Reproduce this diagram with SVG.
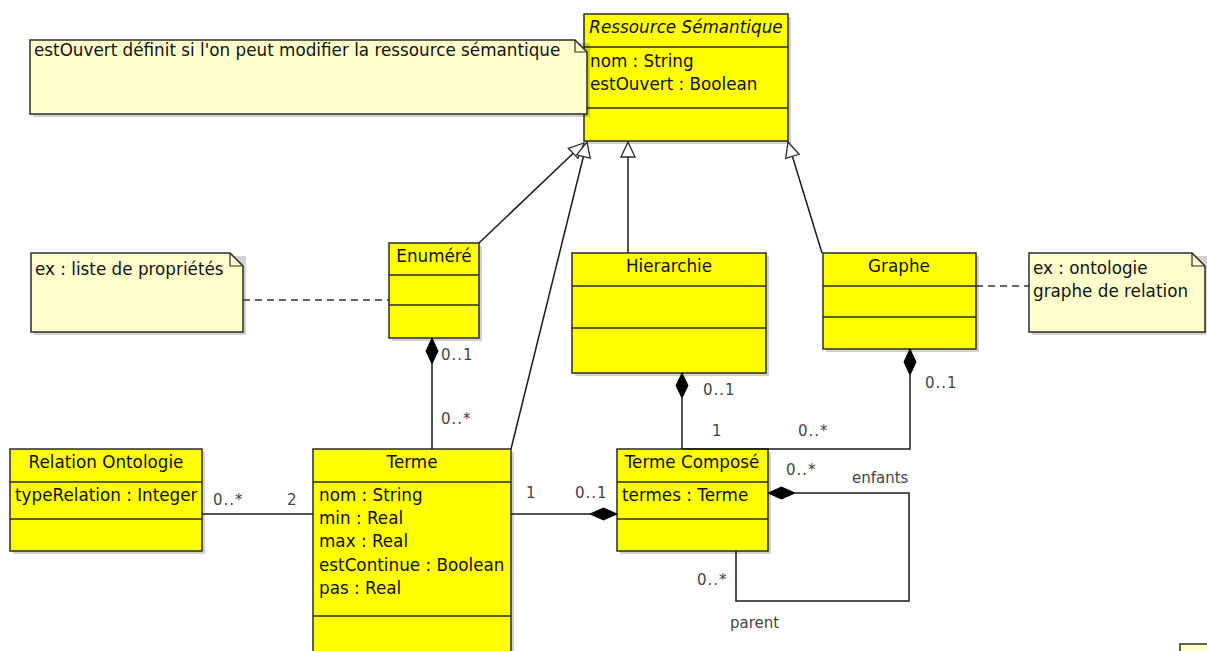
<svg xmlns="http://www.w3.org/2000/svg" width="1207" height="651" viewBox="0 0 1207 651">
<style>
  .box{fill:#ffff00;stroke:#2b2b2b;stroke-width:1.5}
  .sep{stroke:#2b2b2b;stroke-width:1.5}
  .shadow{fill:#000;opacity:0.18}
  .note{fill:#ffffcc;stroke:#2b2b2b;stroke-width:1.5}
  .fold{fill:none;stroke:#2b2b2b;stroke-width:1.2}
  .t{font-family:"DejaVu Sans","Liberation Sans",sans-serif;font-size:16.8px;fill:#111}
  .c{text-anchor:middle}
  .it{font-style:italic}
  .lbl{font-family:"DejaVu Sans","Liberation Sans",sans-serif;font-size:15px;fill:#444}
  .ln{fill:none;stroke:#1a1a1a;stroke-width:1.5}
  .dash{fill:none;stroke:#333;stroke-width:1.5;stroke-dasharray:7 5}
  .dia{fill:#000;stroke:#000;stroke-width:1}
</style>
<defs>
  <marker id="gen" viewBox="0 0 18 18" refX="17" refY="9" markerWidth="18" markerHeight="18" markerUnits="userSpaceOnUse" orient="auto">
    <path d="M2,2 L17,9 L2,16 Z" fill="#fff" stroke="#2b2b2b" stroke-width="1.3"/>
  </marker>
</defs>
<rect width="1207" height="651" fill="#fff"/>

<g id="ressource">
  <rect class="shadow" x="587" y="17" width="204" height="127"/>
  <rect class="box" x="584" y="14" width="204" height="127"/>
  <line class="sep" x1="584" y1="47" x2="788" y2="47"/>
  <line class="sep" x1="584" y1="108" x2="788" y2="108"/>
  <text class="t c it" x="686" y="33">Ressource Sémantique</text>
  <text class="t" x="590" y="67">nom : String</text>
  <text class="t" x="590" y="90">estOuvert : Boolean</text>
</g>

<g id="note-ouvert">
  <rect class="shadow" x="33" y="43" width="557" height="74"/>
  <path class="note" d="M30,40 H575 L587,52 V114 H30 Z"/>
  <path class="fold" d="M575,40 V52 H587"/>
  <text class="t" x="34" y="56">estOuvert définit si l'on peut modifier la ressource sémantique</text>
</g>

<g id="enumere">
  <rect class="shadow" x="392" y="246" width="90" height="95"/>
  <rect class="box" x="389" y="243" width="90" height="95"/>
  <line class="sep" x1="389" y1="275" x2="479" y2="275"/>
  <line class="sep" x1="389" y1="305" x2="479" y2="305"/>
  <text class="t c" x="434" y="262">Enuméré</text>
</g>

<g id="note-liste">
  <rect class="shadow" x="34" y="256" width="212" height="79"/>
  <path class="note" d="M31,253 H230 L243,266 V332 H31 Z"/>
  <path class="fold" d="M230,253 V266 H243"/>
  <text class="t" x="35" y="275">ex : liste de propriétés</text>
</g>

<g id="hierarchie">
  <rect class="shadow" x="575" y="256" width="194" height="120"/>
  <rect class="box" x="572" y="253" width="194" height="120"/>
  <line class="sep" x1="572" y1="286" x2="766" y2="286"/>
  <line class="sep" x1="572" y1="328" x2="766" y2="328"/>
  <text class="t c" x="669" y="272">Hierarchie</text>
</g>

<g id="graphe">
  <rect class="shadow" x="826" y="256" width="153" height="96"/>
  <rect class="box" x="823" y="253" width="153" height="96"/>
  <line class="sep" x1="823" y1="286" x2="976" y2="286"/>
  <line class="sep" x1="823" y1="317" x2="976" y2="317"/>
  <text class="t c" x="899" y="272">Graphe</text>
</g>

<g id="note-ontologie">
  <rect class="shadow" x="1032" y="256" width="176" height="79"/>
  <path class="note" d="M1029,253 H1192 L1205,266 V332 H1029 Z"/>
  <path class="fold" d="M1192,253 V266 H1205"/>
  <text class="t" x="1033" y="274">ex : ontologie</text>
  <text class="t" x="1033" y="297">graphe de relation</text>
</g>

<g id="relation-ontologie">
  <rect class="shadow" x="13" y="452" width="192" height="102"/>
  <rect class="box" x="10" y="449" width="192" height="102"/>
  <line class="sep" x1="10" y1="482" x2="202" y2="482"/>
  <line class="sep" x1="10" y1="519" x2="202" y2="519"/>
  <text class="t c" x="106" y="468">Relation Ontologie</text>
  <text class="t" x="15" y="501">typeRelation : Integer</text>
</g>

<g id="terme">
  <rect class="shadow" x="316" y="452" width="198" height="212"/>
  <rect class="box" x="313" y="449" width="198" height="212"/>
  <line class="sep" x1="313" y1="482" x2="511" y2="482"/>
  <line class="sep" x1="313" y1="616" x2="511" y2="616"/>
  <text class="t c" x="412" y="468">Terme</text>
  <text class="t" x="319" y="501">nom : String</text>
  <text class="t" x="319" y="524">min : Real</text>
  <text class="t" x="319" y="547">max : Real</text>
  <text class="t" x="319" y="571">estContinue : Boolean</text>
  <text class="t" x="319" y="594">pas : Real</text>
</g>

<g id="terme-compose">
  <rect class="shadow" x="620" y="452" width="151" height="102"/>
  <rect class="box" x="617" y="449" width="151" height="102"/>
  <line class="sep" x1="617" y1="482" x2="768" y2="482"/>
  <line class="sep" x1="617" y1="519" x2="768" y2="519"/>
  <text class="t c" x="692" y="468">Terme Composé</text>
  <text class="t" x="622" y="501">termes : Terme</text>
</g>

<g id="note-partial">
  <rect class="note" x="1180" y="644" width="40" height="20"/>
</g>

<g id="connectors">
  <path class="ln" d="M479,243 L584,143" marker-end="url(#gen)"/>
  <path class="ln" d="M511,449 L587,142" marker-end="url(#gen)"/>
  <path class="ln" d="M628,253 V142" marker-end="url(#gen)"/>
  <path class="ln" d="M822,253 L788,142" marker-end="url(#gen)"/>
  <path class="dash" d="M243,300 H389"/>
  <path class="dash" d="M976,286 H1029"/>
  <path class="ln" d="M432,364 V449"/>
  <polygon class="dia" points="432,338 438,351 432,364 426,351"/>
  <text class="lbl" x="441" y="360" letter-spacing="1">0..1</text>
  <text class="lbl" x="441" y="424" letter-spacing="1">0..*</text>
  <path class="ln" d="M682,398 V449"/>
  <polygon class="dia" points="682,373 688,385.5 682,398 676,385.5"/>
  <text class="lbl" x="703" y="395" letter-spacing="1">0..1</text>
  <text class="lbl" x="712" y="436" letter-spacing="1">1</text>
  <path class="ln" d="M910,375 V449 H682"/>
  <polygon class="dia" points="910,349 916,362 910,375 904,362"/>
  <text class="lbl" x="925" y="388" letter-spacing="1">0..1</text>
  <text class="lbl" x="798" y="436" letter-spacing="1">0..*</text>
  <path class="ln" d="M511,514 H590"/>
  <polygon class="dia" points="590,514 603.5,508 617,514 603.5,520"/>
  <text class="lbl" x="526" y="498" letter-spacing="1">1</text>
  <text class="lbl" x="575" y="498" letter-spacing="1">0..1</text>
  <path class="ln" d="M202,514 H313"/>
  <text class="lbl" x="213" y="505" letter-spacing="1">0..*</text>
  <text class="lbl" x="287" y="505" letter-spacing="1">2</text>
  <path class="ln" d="M795,493 H909 V601 H736 V551"/>
  <polygon class="dia" points="768,493 781.5,487 795,493 781.5,499"/>
  <text class="lbl" x="786" y="475" letter-spacing="1">0..*</text>
  <text class="lbl" x="852" y="483">enfants</text>
  <text class="lbl" x="697" y="585" letter-spacing="1">0..*</text>
  <text class="lbl" x="730" y="628">parent</text>
</g>
</svg>
